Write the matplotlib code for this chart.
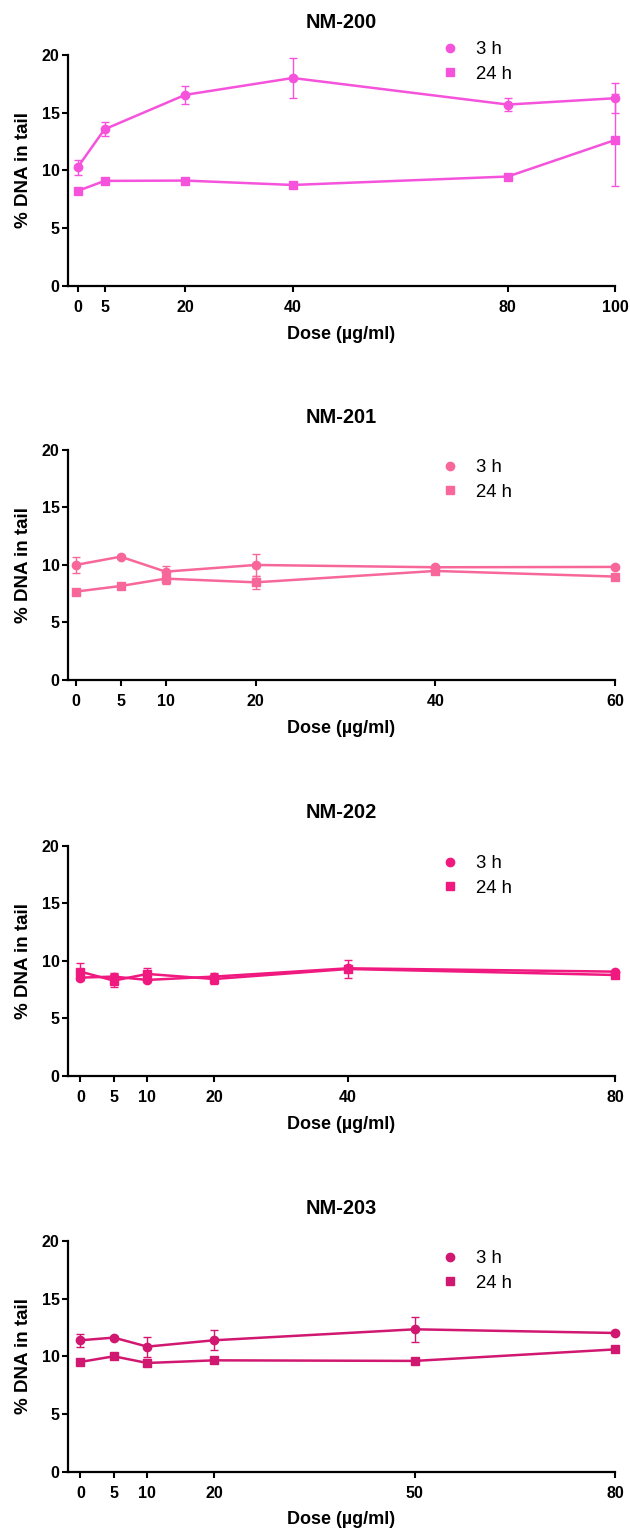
import matplotlib
matplotlib.use('Agg')
import matplotlib.pyplot as plt
from matplotlib.lines import Line2D

plt.rcParams['font.family'] = ['Liberation Sans', 'DejaVu Sans']

# ---- data ----
titles = ['NM-200', 'NM-201', 'NM-202', 'NM-203']
colors = ['#F553DC', '#F7679A', '#F0197F', '#D11871']

dose_200 = [0, 5, 20, 40, 80, 100]
h3_200 = [10.27, 13.56, 16.54, 18.0, 15.7, 16.25]
h3_200_err = [0.65, 0.6, 0.8, 1.77, 0.6, 1.3]
h24_200 = [8.22, 9.09, 9.12, 8.74, 9.47, 12.64]
h24_200_err = [0.2, 0.2, 0.2, 0.2, 0.2, 3.95]

dose_201 = [0, 5, 10, 20, 40, 60]
h3_201 = [10.0, 10.72, 9.42, 10.0, 9.8, 9.83]
h3_201_err = [0.7, 0.15, 0.5, 0.93, 0.15, 0.15]
h24_201 = [7.68, 8.17, 8.81, 8.49, 9.48, 8.99]
h24_201_err = [0.2, 0.2, 0.5, 0.55, 0.2, 0.2]

dose_202 = [0, 5, 10, 20, 40, 80]
h3_202 = [8.54, 8.63, 8.34, 8.63, 9.35, 9.06]
h3_202_err = [0.2, 0.3, 0.2, 0.3, 0.2, 0.15]
h24_202 = [9.06, 8.28, 8.86, 8.42, 9.29, 8.77]
h24_202_err = [0.72, 0.58, 0.5, 0.45, 0.76, 0.2]

dose_203 = [0, 5, 10, 20, 50, 80]
h3_203 = [11.39, 11.62, 10.84, 11.39, 12.34, 12.02]
h3_203_err = [0.55, 0.15, 0.87, 0.85, 1.1, 0.15]
h24_203 = [9.51, 10.0, 9.42, 9.65, 9.6, 10.6]
h24_203_err = [0.2, 0.2, 0.3, 0.2, 0.2, 0.2]

panels = [
    (dose_200, h3_200, h3_200_err, h24_200, h24_200_err),
    (dose_201, h3_201, h3_201_err, h24_201, h24_201_err),
    (dose_202, h3_202, h3_202_err, h24_202, h24_202_err),
    (dose_203, h3_203, h3_203_err, h24_203, h24_203_err),
]
x_left = [-1.87, -0.89, -1.91, -1.91]

# axes placement (figure fractions) and legend top (px)
axes_bottom = [0.8130, 0.5553, 0.2963, 0.0375]
axes_height = [0.1511, 0.1504, 0.1506, 0.1509]
legend_top_px = [41, 459, 855, 1250]

fig = plt.figure(figsize=(6.3, 15.29), dpi=100)

for i, (dose, m3, e3, m24, e24) in enumerate(panels):
    ax = fig.add_axes([0.1073, axes_bottom[i], 0.8695, axes_height[i]])
    c = colors[i]
    ax.errorbar(dose, m3, yerr=e3, color=c, marker='o', markersize=6, lw=1.8,
                elinewidth=1.0, capsize=3, capthick=1.0, clip_on=False, zorder=3)
    ax.errorbar(dose, m24, yerr=e24, color=c, marker='s', markersize=5.8, lw=1.8,
                elinewidth=1.0, capsize=3, capthick=1.0, clip_on=False, zorder=3)

    ax.set_xlim(x_left[i], dose[-1])
    ax.set_ylim(0, 20)
    ax.set_xticks(dose)
    ax.set_yticks([0, 5, 10, 15, 20])
    ax.spines['top'].set_visible(False)
    ax.spines['right'].set_visible(False)
    for s in ['left', 'bottom']:
        ax.spines[s].set_linewidth(1.6)
    ax.tick_params(axis='both', direction='out', length=4.2, width=1.5,
                   labelsize=11.5)
    ax.tick_params(axis='x', pad=6)
    ax.tick_params(axis='y', pad=1.5)
    for lab in ax.get_xticklabels() + ax.get_yticklabels():
        lab.set_fontweight('bold')

    ax.set_title(titles[i], fontsize=14.4, fontweight='bold', pad=19.7)
    ax.set_xlabel('Dose (\u00b5g/ml)', fontsize=13, fontweight='bold', labelpad=7.5)
    ax.set_ylabel('% DNA in tail', fontsize=13.5, fontweight='bold',
                  va='center')
    ax.yaxis.set_label_coords(-0.08, 0.5)

    handles = [Line2D([], [], color=c, marker='o', linestyle='None', markersize=6),
               Line2D([], [], color=c, marker='s', linestyle='None', markersize=5.8)]
    fig.legend(handles, ['3 h', '24 h'], loc='upper left',
               bbox_to_anchor=(441 / 630, 1 - legend_top_px[i] / 1529),
               bbox_transform=fig.transFigure, frameon=False, fontsize=13.4,
               handlelength=1.0, handletextpad=0.87, borderpad=0,
               borderaxespad=0, labelspacing=0.42)

fig.savefig('out.png', dpi=100)
